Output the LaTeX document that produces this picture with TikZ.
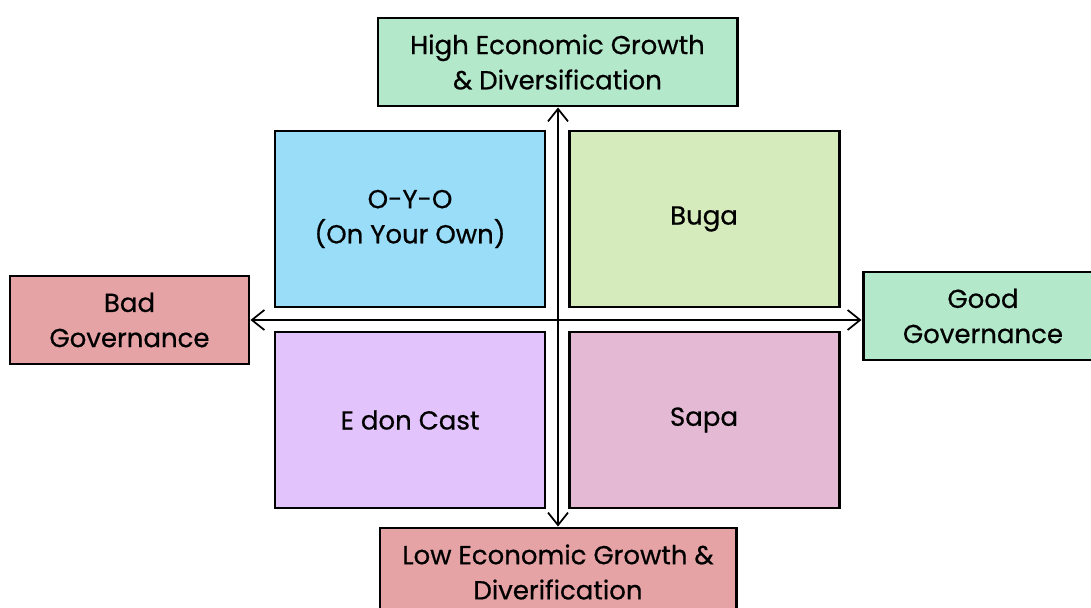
\documentclass[tikz,border=0pt]{standalone}
\usepackage{fontspec}
\setmainfont{Poppins}[FakeBold=0.6,UprightFont=*,BoldFont=*]
\usetikzlibrary{arrows.meta}

\definecolor{hicol}{HTML}{B3E8CB}
\definecolor{locol}{HTML}{E5A3A6}
\definecolor{oyocol}{HTML}{99DDF8}
\definecolor{bugacol}{HTML}{D5EBBB}
\definecolor{edoncol}{HTML}{E3C3FC}
\definecolor{sapacol}{HTML}{E3B9D3}

\begin{document}
\begin{tikzpicture}[line width=1.7pt,
    axisbox/.style={draw,rectangle,align=center,minimum height=1.76cm,inner sep=0pt,font=\fontsize{14.8}{20}\selectfont\bfseries},
    quad/.style={draw,rectangle,align=center,minimum width=5.4cm,minimum height=3.52cm,inner sep=0pt,font=\fontsize{14.8}{20}\selectfont\bfseries},
    axis/.style={line width=1pt,{Straight Barb[length=2.5mm,width=4mm]}-{Straight Barb[length=2.5mm,width=4mm]}}]
  \useasboundingbox (0,0) rectangle (21.82,-12.16);
  \clip (0,0) rectangle (21.82,-12.16);

  \node [axisbox,fill=hicol,minimum width=7.18cm] (hi) at (11.15,-1.24) {High Economic Growth\\\& Diversification};
  \node [axisbox,fill=locol,minimum width=7.12cm] (lo) at (11.16,-11.44) {Low Economic Growth \&\\Diverification};
  \node [axisbox,fill=locol,minimum width=4.78cm] (bad) at (2.59,-6.40) {Bad\\Governance};
  \node [axisbox,fill=hicol,minimum width=4.8cm] (good) at (19.66,-6.32) {Good\\Governance};

  \node [quad,fill=oyocol] (oyo) at (8.2,-4.38) {O-Y-O\\(On Your Own)};
  \node [quad,fill=bugacol] (buga) at (14.08,-4.38) {Buga};
  \node [quad,fill=edoncol] (edon) at (8.2,-8.4) {E don Cast};
  \node [quad,fill=sapacol] (sapa) at (14.08,-8.4) {Sapa};

  \draw [axis] (lo.north) -- (lo.north |- hi.south);
  \draw [axis] (bad.east) -- (bad.east -| good.west);
\end{tikzpicture}
\end{document}
